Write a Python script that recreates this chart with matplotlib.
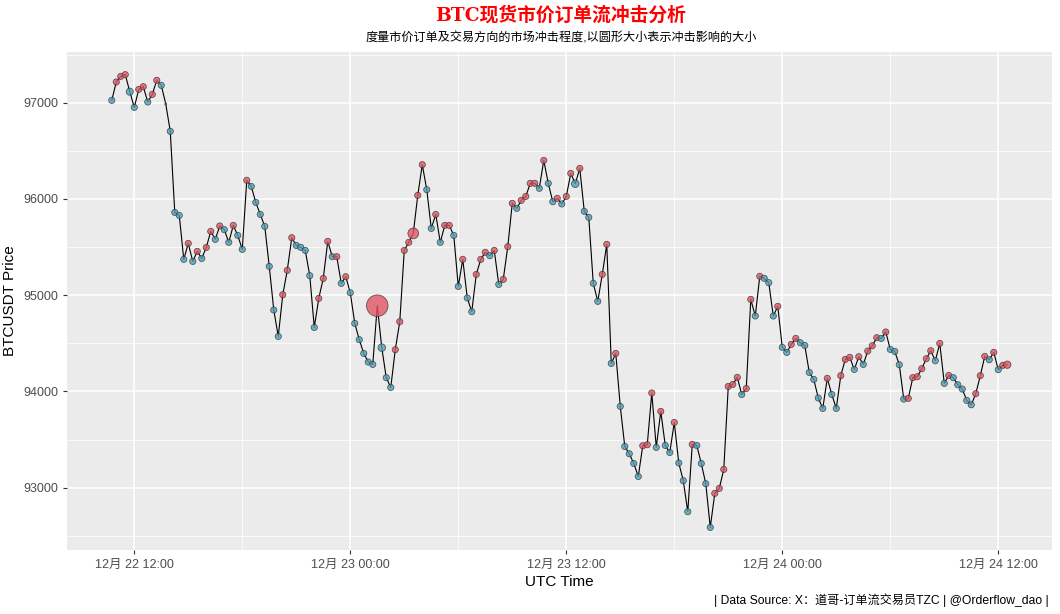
import matplotlib
matplotlib.use("Agg")
import matplotlib.pyplot as plt
import matplotlib.dates as mdates
from matplotlib.ticker import MultipleLocator
import pandas as pd
import numpy as np

plt.rcParams['font.family'] = ['Liberation Sans', 'Noto Sans CJK SC', 'DejaVu Sans']

# 15-minute bars, UTC
start_time = "2024-12-22 10:45"
n_bars = 200

prices = [
    97024, 97215, 97273, 97291, 97114, 96951, 97138, 97166, 97007, 97086,
    97232, 97180, 96986, 96702, 95860, 95829, 95372, 95538, 95351, 95455,
    95382, 95496, 95663, 95580, 95719, 95681, 95549, 95725, 95621, 95476,
    96193, 96130, 95964, 95839, 95715, 95299, 94846, 94572, 95005, 95258,
    95597, 95517, 95497, 95465, 95203, 94665, 94967, 95174, 95559, 95400,
    95400, 95123, 95192, 95026, 94707, 94538, 94395, 94306, 94281, 94891,
    94455, 94143, 94042, 94434, 94725, 95465, 95549, 95642, 96037, 96356,
    96096, 95694, 95839, 95549, 95725, 95725, 95621, 95091, 95372, 94971,
    94829, 95216, 95372, 95445, 95410, 95465, 95112, 95164, 95504, 95954,
    95902, 95985, 96026, 96162, 96162, 96110, 96400, 96162, 95971, 96006,
    95948, 96026, 96265, 96158, 96317, 95871, 95808, 95123, 94936, 95216,
    95528, 94291, 94395, 93845, 93429, 93353, 93252, 93117, 93436, 93447,
    93984, 93419, 93793, 93439, 93366, 93678, 93257, 93073, 92751, 93450,
    93439, 93252, 93042, 92588, 92941, 92993, 93190, 94052, 94073, 94146,
    93969, 94031, 94956, 94784, 95196, 95175, 95130, 94784, 94884, 94458,
    94406, 94489, 94551, 94506, 94478, 94198, 94125, 93932, 93824, 94136,
    93969, 93824, 94164, 94333, 94354, 94229, 94361, 94281, 94420, 94475,
    94558, 94551, 94618, 94437, 94416, 94278, 93921, 93928, 94143, 94153,
    94236, 94340, 94423, 94319, 94499, 94084, 94166, 94143, 94070, 94025,
    93907, 93862, 93977, 94164, 94364, 94330, 94406, 94226, 94271, 94278,
]

# B = aggressive buy (red), S = aggressive sell (blue)
side = (
    "SBBBSSBBSB" "BSSSSSSBSB" "SBBSBSSBSS" "BSSSSSSSBB"
    "BSSSSSBBBS" "BSBSSSSSSB" "SSSBBBBBBB" "SSBSBBSSBS"
    "SBBBSBSBBB" "SBBBBSBSSB" "SBBSBSSSSB" "BSBSSSSSBB"
    "BSBSSBSSSB" "SSSSBBBBBB" "SBBSBSSSBS" "SBBSSSSSSB"
    "SSBBBSBSBB" "BSBSSSSBBB" "BBBSBSBSSS" "SSBBBSBSBB"
)

# relative market impact (circle area)
impact = [
    1, 1, 1, 1, 1.3, 1, 1, 1, 1, 1, 1, 1, 0.1, 1, 1, 1, 1, 1, 1, 1,
    1, 1, 1, 1, 1, 1, 1, 1, 1, 1, 1, 1, 1, 1, 1, 1, 1, 1, 1, 1,
    1, 1, 1, 1, 1, 1, 1, 1, 1, 1, 1, 1, 1, 1, 1, 1, 1, 1, 1, 12,
    1.5, 1, 1, 1, 1, 1, 1, 3, 1, 1, 1, 1, 1, 1, 1, 1, 1, 1, 1, 1,
    1, 1, 1, 1, 1, 1, 1, 1, 1, 1, 1, 1, 1, 1, 1, 1, 1, 1, 1, 1,
    1, 1, 1, 1.5, 1, 1, 1, 1, 1, 1, 1, 1, 1, 1, 1, 1, 1, 1, 1, 1,
    1, 1, 1, 1, 1, 1, 1, 1, 1, 1, 1, 1, 1, 1, 1, 1, 1, 1, 1, 1,
    1, 1, 1, 1, 1, 1, 1, 1, 1, 1, 1, 1, 1, 1, 1, 1, 1, 1, 1, 1,
    1, 1, 1, 1, 1, 1, 1, 1, 1, 1, 1, 1, 1, 1, 1, 1, 1, 1, 1, 1,
    1, 1, 1, 1, 1, 1, 1, 1, 1, 1, 1, 1, 1, 1, 1, 1, 1, 1, 1, 1.4,
]

times = pd.date_range(start_time, periods=n_bars, freq="15min")
df = pd.DataFrame({"time": times, "price": prices, "side": list(side), "impact": impact})

fig = plt.figure(figsize=(10.6, 6.14), dpi=100)
ax = fig.add_axes([0.0632, 0.1042, 0.9293, 0.8111])
ax.set_facecolor("#EBEBEB")
for s in ax.spines.values():
    s.set_visible(False)

ax.plot(df["time"], df["price"], color="black", lw=0.8, zorder=3)
colors = np.where(df["side"] == "B", "#E25563", "#4F9FB8")
ax.scatter(df["time"], df["price"], s=df["impact"] * 20, c=colors, alpha=0.8,
           edgecolors="#333333", linewidths=0.55, zorder=4)

ax.margins(x=0.05, y=0.05)

ax.xaxis.set_major_locator(mdates.HourLocator(byhour=[0, 12]))
ax.xaxis.set_minor_locator(mdates.HourLocator(byhour=[6, 18]))
ax.xaxis.set_major_formatter(
    plt.FuncFormatter(lambda v, p: (lambda d: f"{d.month}月 {d.day:02d} {d:%H:%M}")(mdates.num2date(v))))
ax.yaxis.set_major_locator(MultipleLocator(1000))
ax.yaxis.set_minor_locator(MultipleLocator(500))

ax.grid(which="major", color="white", lw=1.1)
ax.grid(which="minor", color="white", lw=0.55)
ax.set_axisbelow(True)
ax.tick_params(which="major", length=3, width=0.8, color="#333333", labelcolor="#4D4D4D", labelsize=9)
ax.tick_params(which="minor", length=0)

ax.set_xlabel("UTC Time", fontsize=11, labelpad=3)
ax.set_ylabel("BTCUSDT Price", fontsize=11, labelpad=4)

fig.text(0.529, 0.975, "BTC现货市价订单流冲击分析", ha="center", va="center",
         color="red", fontsize=13.5, fontweight="bold", family=["DejaVu Serif", "Noto Sans CJK SC"])
fig.text(0.529, 0.938, "度量市价订单及交易方向的市场冲击程度,以圆形大小表示冲击影响的大小",
         ha="center", va="center", fontsize=8.7)
fig.text(0.989, 0.022, "| Data Source: X：道哥-订单流交易员TZC | @Orderflow_dao |",
         ha="right", va="center", fontsize=8.7)

fig.savefig("out.png", dpi=100)
